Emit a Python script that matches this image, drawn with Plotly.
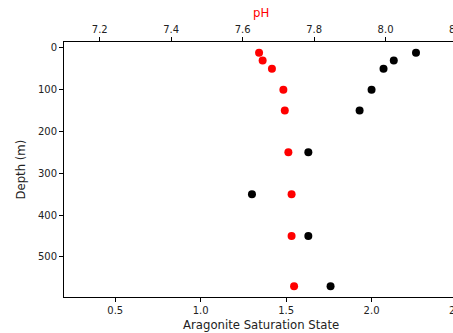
import plotly.graph_objects as go

depth = [12, 30, 50, 100, 150, 250, 350, 450, 570]
aragonite = [2.26, 2.13, 2.07, 2.00, 1.93, 1.63, 1.30, 1.63, 1.76]
ph = [7.646, 7.656, 7.682, 7.714, 7.718, 7.728, 7.737, 7.737, 7.744]

fig = go.Figure()
fig.add_trace(go.Scatter(x=aragonite, y=depth, mode="markers", xaxis="x", yaxis="y",
                         marker=dict(color="black", size=8), showlegend=False))
fig.add_trace(go.Scatter(x=ph, y=depth, mode="markers", xaxis="x2", yaxis="y",
                         marker=dict(color="red", size=8), showlegend=False))

font = dict(family="DejaVu Sans", size=10, color="#222")
tfont = dict(family="DejaVu Sans", size=11.7, color="#222")
fig.update_layout(
    width=500, height=333,
    margin=dict(l=64, r=43, t=42, b=36),
    paper_bgcolor="white", plot_bgcolor="white",
    font=font,
    xaxis=dict(range=[0.2, 2.5], tickvals=[0.5, 1.0, 1.5, 2.0, 2.5],
               ticktext=["0.5", "1.0", "1.5", "2.0", "2.5"], automargin=False,
               showgrid=False, zeroline=False, showline=True, linecolor="black", linewidth=1,
               ticks="outside", ticklen=4, tickcolor="black", mirror=False),
    xaxis2=dict(range=[7.1, 8.2], tickvals=[7.2, 7.4, 7.6, 7.8, 8.0, 8.2],
                ticktext=["7.2", "7.4", "7.6", "7.8", "8.0", "8.2"], automargin=False,
                overlaying="x", side="top", anchor="y",
                showgrid=False, zeroline=False, showline=True, linecolor="black", linewidth=1,
                ticks="outside", ticklen=4, tickcolor="black"),
    yaxis=dict(range=[596, -14], tickvals=[0, 100, 200, 300, 400, 500], automargin=False,
               showgrid=False, zeroline=False, showline=True, linecolor="black", linewidth=1,
               mirror=True, ticks="outside", ticklen=4, tickcolor="black"),
    annotations=[
        dict(text="Aragonite Saturation State", xref="paper", yref="paper", x=0.5, y=0,
             yanchor="middle", xanchor="center", yshift=-28, showarrow=False, font=tfont),
        dict(text="pH", xref="paper", yref="paper", x=0.5, y=1,
             yanchor="middle", xanchor="center", yshift=29.5, showarrow=False,
             font=dict(family="DejaVu Sans", size=11.7, color="red")),
        dict(text="Depth (m)", xref="paper", yref="paper", x=0, y=0.5, textangle=-90,
             yanchor="middle", xanchor="center", xshift=-44, showarrow=False, font=tfont),
    ],
)

fig.write_html("out.html",
               post_script="document.body.style.overflow='hidden';document.documentElement.style.overflow='hidden';")
